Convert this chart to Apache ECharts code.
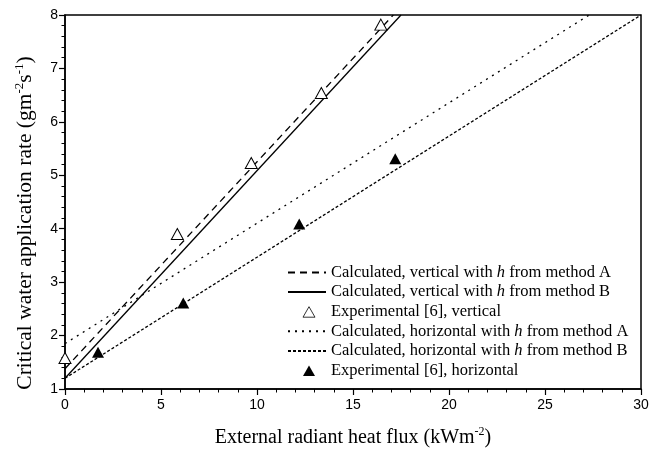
<!DOCTYPE html>
<html>
<head>
<meta charset="utf-8">
<script src="https://cdn.jsdelivr.net/npm/echarts@6/dist/echarts.min.js"></script>
<style>
  html, body { margin: 0; padding: 0; background: #fff; }
  #chart { width: 661px; height: 454px; }
</style>
</head>
<body>
<div id="chart"></div>
<script>
// 计算线（两端点）
const vertA = [[0, 1.38], [17.1, 8]]
const vertB = [[0, 1.2], [17.5, 8]]
const horA = [[0, 1.85], [27.3, 8]]
const horB = [[0, 1.2], [30, 8]]
// 实验点
const expVert = [[0, 1.58], [5.85, 3.9], [9.7, 5.23], [13.35, 6.54], [16.45, 7.82]]
const expHor = [[1.72, 1.69], [6.16, 2.61], [12.2, 4.09], [17.2, 5.31]]

const names = [
  'Calculated, vertical with h from method A',
  'Calculated, vertical with h from method B',
  'Experimental [6], vertical',
  'Calculated, horizontal with h from method A',
  'Calculated, horizontal with h from method B',
  'Experimental [6], horizontal',
]

const serif = 'Liberation Serif'
const sans = 'Liberation Sans'

let myChart = echarts.init(document.getElementById('chart'))

function lineSeries(name, data, dash) {
  return {
    name: name,
    type: 'line',
    data: data,
    symbol: 'none',
    z: 3,
    lineStyle: {color: '#000', width: 1.3, type: dash},
    itemStyle: {color: '#000'},
  }
}

// 图例里的三角形：用带空白边框的路径，避免被拉宽
const triIcon = 'path://M0,0M38,13M15,12L21,1.5L27,12Z'
const legendData = names.map((n, i) => {
  if (i === 2 || i === 5) {
    return {name: n, icon: triIcon, itemStyle: {borderWidth: 0.8}}
  }
  return {name: n, itemStyle: {opacity: 0}}
})

myChart.setOption({
  animation: false,
  grid: {
    left: 65,
    right: 20,
    top: 15,
    bottom: 65,
    show: true,
    borderColor: '#000',
    borderWidth: 1.5,
  },
  legend: {
    orient: 'vertical',
    left: 282,
    top: 259,
    itemWidth: 38,
    itemHeight: 13,
    itemGap: 2.6,
    data: legendData,
    formatter: (name) => name.replace(' h ', ' {i|h} '),
    textStyle: {
      fontFamily: serif,
      fontSize: 16.5,
      lineHeight: 16,
      color: '#000',
      rich: {
        i: {fontFamily: serif, fontSize: 16.5, lineHeight: 16, fontStyle: 'italic', color: '#000'},
      },
    },
  },
  xAxis: {
    type: 'value',
    min: 0,
    max: 30,
    interval: 5,
    name: '{a|External radiant heat flux (kWm}{s|-2}{a|)}',
    nameLocation: 'middle',
    nameGap: 37,
    nameTextStyle: {
      rich: {
        a: {fontFamily: serif, fontSize: 20, color: '#000', lineHeight: 23},
        s: {fontFamily: serif, fontSize: 12, color: '#000', lineHeight: 12, verticalAlign: 'top'},
      },
    },
    axisLine: {lineStyle: {color: '#000', width: 1.5}},
    axisTick: {length: 6, lineStyle: {color: '#000', width: 1.2}},
    minorTick: {show: true, splitNumber: 5, length: 3.5, lineStyle: {color: '#000', width: 1}},
    axisLabel: {fontFamily: sans, fontSize: 14, color: '#000', margin: 9},
    splitLine: {show: false},
  },
  yAxis: {
    type: 'value',
    min: 1,
    max: 8,
    interval: 1,
    name: '{a|Critical water application rate (gm}{s|-2}{a|s}{s|-1}{a|)}',
    nameLocation: 'middle',
    nameGap: 28,
    nameTextStyle: {
      padding: [0, 42, 0, 0],
      rich: {
        a: {fontFamily: serif, fontSize: 21.5, color: '#000', lineHeight: 24},
        s: {fontFamily: serif, fontSize: 13, color: '#000', lineHeight: 13, verticalAlign: 'top'},
      },
    },
    axisLine: {lineStyle: {color: '#000', width: 1.5}},
    axisTick: {length: 6, lineStyle: {color: '#000', width: 1.2}},
    minorTick: {show: true, splitNumber: 5, length: 3.5, lineStyle: {color: '#000', width: 1}},
    axisLabel: {fontFamily: sans, fontSize: 14, color: '#000', margin: 7},
    splitLine: {show: false},
  },
  series: [
    lineSeries(names[0], vertA, [7, 5]),
    lineSeries(names[1], vertB, 'solid'),
    {
      name: names[2],
      type: 'scatter',
      data: expVert,
      symbol: 'triangle',
      symbolSize: [12, 11],
      z: 4,
      itemStyle: {color: '#fff', borderColor: '#000', borderWidth: 1, opacity: 1},
    },
    lineSeries(names[3], horA, [2, 5]),
    lineSeries(names[4], horB, [3, 2]),
    {
      name: names[5],
      type: 'scatter',
      data: expHor,
      symbol: 'triangle',
      symbolSize: [12, 11],
      z: 4,
      itemStyle: {color: '#000', opacity: 1},
    },
  ],
})
window.addEventListener('resize', () => myChart.resize())
</script>
</body>
</html>
